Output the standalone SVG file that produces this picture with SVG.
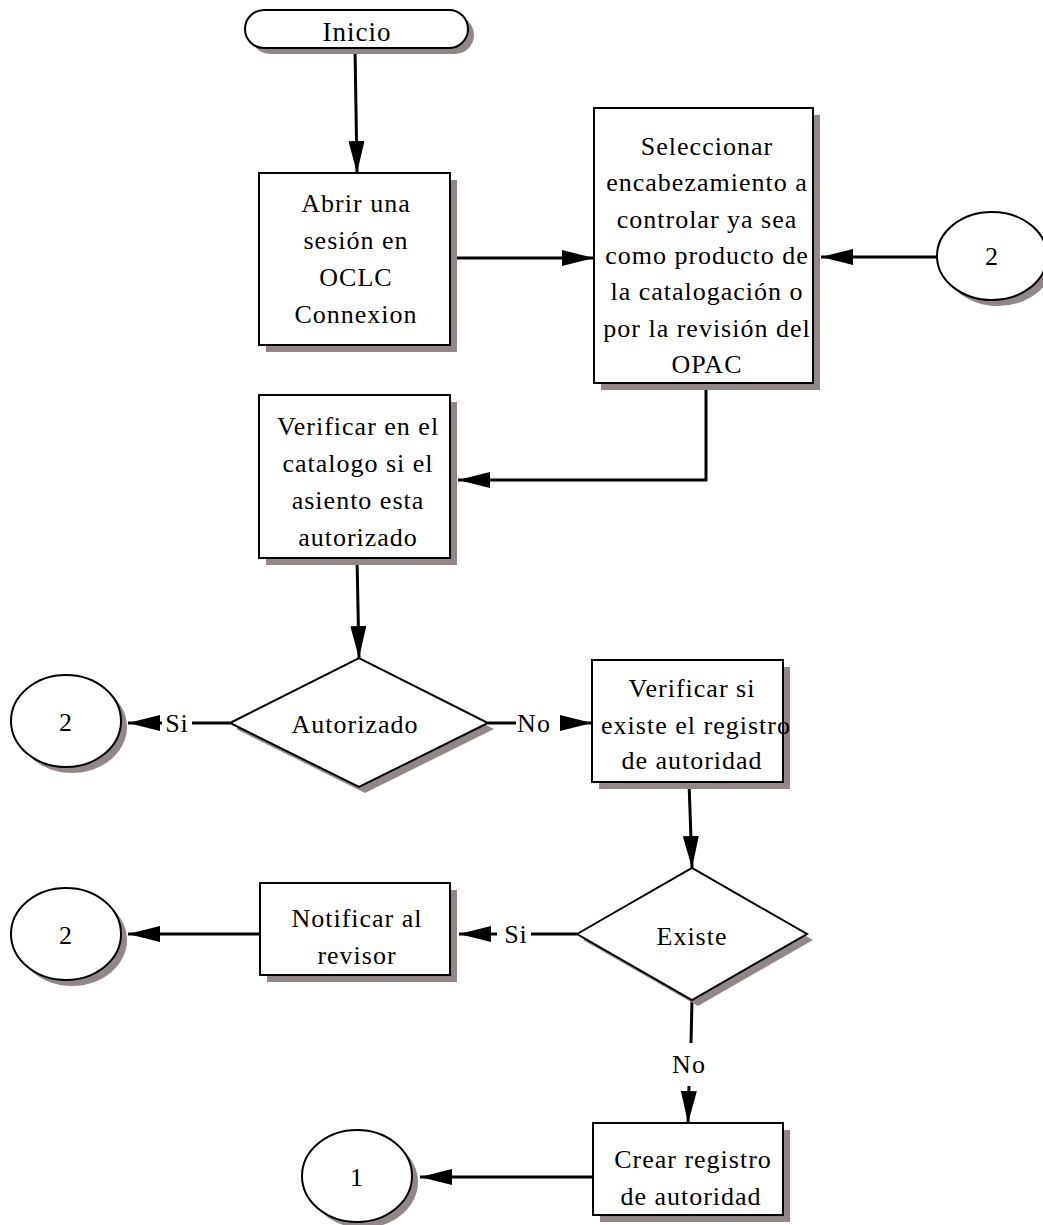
<svg xmlns="http://www.w3.org/2000/svg" width="1043" height="1225" viewBox="0 0 1043 1225">
  <defs>
    <marker id="arrow" markerUnits="userSpaceOnUse" markerWidth="32" markerHeight="16" refX="32" refY="8" orient="auto">
      <path d="M0,0 L32,8 L0,16 z" fill="#000"/>
    </marker>
    <style>
      .shadow { fill: #928787; stroke: none; }
      .box { fill: #fff; stroke: #000; stroke-width: 2; }
      .txt { font-family: "Liberation Serif", "Times New Roman", serif; font-size: 26px; letter-spacing: 1px; text-anchor: middle; fill: #000; }
      .conn { fill: none; stroke: #000; stroke-width: 3; }
      .arr { fill: none; stroke: #000; stroke-width: 3; marker-end: url(#arrow); }
    </style>
  </defs>
  <rect width="1043" height="1225" fill="#fff"/>

  <!-- connectors -->
  <g id="connectors">
    <path class="arr" d="M355,48 L357,173"/>
    <path class="arr" d="M452,258 L594,258"/>
    <path class="arr" d="M937,257 L821,257"/>
    <path class="arr" d="M706,383 L706,480 L458,480"/>
    <path class="arr" d="M357,558 L359,658"/>
    <!-- Autorizado: Si -->
    <path class="conn" d="M230,723 L192,723"/>
    <path class="arr" d="M162,723 L128,723"/>
    <text class="txt" x="177" y="732">Si</text>
    <!-- Autorizado: No -->
    <path class="conn" d="M488,723 L516,723"/>
    <path class="arr" d="M560,723 L592,723"/>
    <text class="txt" x="534" y="732">No</text>
    <path class="arr" d="M689,782 L692,868"/>
    <!-- Existe: Si -->
    <path class="conn" d="M577,934 L531,934"/>
    <path class="arr" d="M497,934 L459,934"/>
    <text class="txt" x="516" y="943">Si</text>
    <!-- Existe: No -->
    <path class="conn" d="M692,1000 L691,1043"/>
    <path class="arr" d="M689,1086 L688,1123"/>
    <text class="txt" x="689" y="1073">No</text>
    <path class="arr" d="M260,934 L128,934"/>
    <path class="arr" d="M593,1177 L420,1177"/>
  </g>

  <!-- nodes -->
  <g id="inicio">
    <rect class="shadow" x="251" y="16" width="223" height="38" rx="19"/>
    <rect class="box" x="245" y="10" width="223" height="38" rx="19"/>
    <text class="txt" x="357" y="41" style="font-size:27px">Inicio</text>
  </g>

  <g id="abrir">
    <rect class="shadow" x="266" y="180" width="191" height="172"/>
    <rect class="box" x="259" y="173" width="191" height="172"/>
    <text class="txt" x="356" y="212">Abrir una</text>
    <text class="txt" x="356" y="249">sesión en</text>
    <text class="txt" x="356" y="286">OCLC</text>
    <text class="txt" x="356" y="323">Connexion</text>
  </g>

  <g id="seleccionar">
    <rect class="shadow" x="601" y="115" width="219" height="275"/>
    <rect class="box" x="594" y="108" width="219" height="275"/>
    <text class="txt" x="707" y="155">Seleccionar</text>
    <text class="txt" x="707" y="191">encabezamiento a</text>
    <text class="txt" x="707" y="228">controlar ya sea</text>
    <text class="txt" x="707" y="264">como producto de</text>
    <text class="txt" x="707" y="300">la catalogación o</text>
    <text class="txt" x="707" y="337">por la revisión del</text>
    <text class="txt" x="707" y="373">OPAC</text>
  </g>

  <g id="conector-2-a">
    <ellipse class="shadow" cx="998" cy="262" rx="55" ry="44"/>
    <ellipse class="box" cx="992" cy="256" rx="55" ry="44"/>
    <text class="txt" x="992" y="265">2</text>
  </g>

  <g id="verificar-catalogo">
    <rect class="shadow" x="266" y="402" width="191" height="163"/>
    <rect class="box" x="259" y="395" width="191" height="163"/>
    <text class="txt" x="358" y="435">Verificar en el</text>
    <text class="txt" x="358" y="472">catalogo si el</text>
    <text class="txt" x="358" y="509">asiento esta</text>
    <text class="txt" x="358" y="546">autorizado</text>
  </g>

  <g id="autorizado">
    <polygon class="shadow" points="236,729 365,664 494,729 365,793"/>
    <polygon class="box" points="230,723 359,658 488,723 359,787"/>
    <text class="txt" x="355" y="733">Autorizado</text>
  </g>

  <g id="conector-2-b">
    <ellipse class="shadow" cx="72" cy="727" rx="55" ry="46"/>
    <ellipse class="box" cx="66" cy="721" rx="55" ry="46"/>
    <text class="txt" x="66" y="731">2</text>
  </g>

  <g id="verificar-registro">
    <rect class="shadow" x="599" y="667" width="191" height="122"/>
    <rect class="box" x="592" y="660" width="191" height="122"/>
    <text class="txt" x="692" y="697">Verificar si</text>
    <text class="txt" x="696" y="734">existe el registro</text>
    <text class="txt" x="692" y="769">de autoridad</text>
  </g>

  <g id="existe">
    <polygon class="shadow" points="583,940 698,874 813,940 698,1006"/>
    <polygon class="box" points="577,934 692,868 807,934 692,1000"/>
    <text class="txt" x="692" y="945">Existe</text>
  </g>

  <g id="notificar">
    <rect class="shadow" x="267" y="890" width="190" height="92"/>
    <rect class="box" x="260" y="883" width="190" height="92"/>
    <text class="txt" x="357" y="927">Notificar al</text>
    <text class="txt" x="357" y="964">revisor</text>
  </g>

  <g id="conector-2-c">
    <ellipse class="shadow" cx="72" cy="940" rx="55" ry="46"/>
    <ellipse class="box" cx="66" cy="934" rx="55" ry="46"/>
    <text class="txt" x="66" y="944">2</text>
  </g>

  <g id="crear">
    <rect class="shadow" x="600" y="1130" width="190" height="92"/>
    <rect class="box" x="593" y="1123" width="190" height="92"/>
    <text class="txt" x="693" y="1168">Crear registro</text>
    <text class="txt" x="691" y="1205">de autoridad</text>
  </g>

  <g id="conector-1">
    <ellipse class="shadow" cx="363" cy="1182" rx="55" ry="46"/>
    <ellipse class="box" cx="357" cy="1176" rx="55" ry="46"/>
    <text class="txt" x="357" y="1186">1</text>
  </g>
</svg>
